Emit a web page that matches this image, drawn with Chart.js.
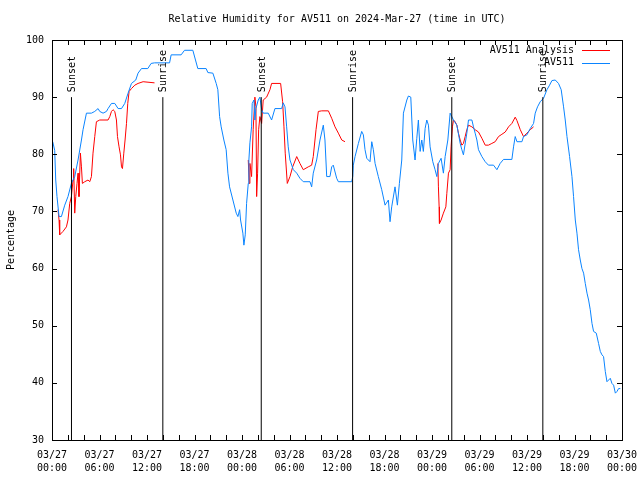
<!DOCTYPE html>
<html>
<head>
<meta charset="utf-8">
<script src="https://cdn.jsdelivr.net/npm/chart.js@4.4.1/dist/chart.umd.min.js"></script>
<style>
  body { margin: 0; background: #fff; }
  canvas { display: block; }
</style>
</head>
<body>
<canvas id="chart-rh" width="640" height="480"></canvas>
<script>
// hours since 03/27 00:00 UTC, relative humidity in %
const blueHours = [0.09, 0.34, 0.47, 0.63, 0.89, 1.19, 1.61, 2.02, 2.45, 2.87, 3.29, 3.72, 3.92, 4.35, 4.98, 5.40, 5.82, 6.03, 6.45, 6.88,
  7.08, 7.51, 7.93, 8.35, 8.78, 9.19, 9.61, 10.04, 10.58, 10.87, 11.30, 12.10, 12.52, 12.95, 14.85, 15.05, 16.31, 16.74, 17.79, 18.42,
  19.47, 19.69, 20.32, 20.74, 20.95, 21.17, 21.37, 21.71, 22.00, 22.22, 22.43, 22.85, 23.27, 23.48, 23.70, 23.82, 24.11, 24.24, 24.41, 24.58,
  24.79, 24.87, 25.00, 25.21, 25.29, 25.51, 25.63, 25.76, 26.05, 26.26, 26.48, 26.68, 27.31, 27.74, 28.16, 29.01, 29.21, 29.43, 29.64, 29.84,
  30.06, 30.48, 30.91, 31.32, 31.74, 32.59, 32.80, 33.00, 33.43, 33.85, 34.27, 34.48, 34.70, 35.11, 35.33, 35.53, 35.96, 36.17, 37.86, 37.99,
  38.06, 38.28, 38.70, 39.12, 39.33, 39.54, 39.76, 40.17, 40.39, 40.59, 40.81, 41.22, 41.65, 42.07, 42.49, 42.70, 42.91, 43.33, 43.63, 43.88,
  44.18, 44.39, 44.82, 45.02, 45.32, 45.57, 45.86, 46.08, 46.28, 46.50, 46.71, 46.91, 47.13, 47.34, 47.55, 47.76, 48.10, 48.39, 48.61, 48.81,
  49.15, 49.44, 49.66, 50.00, 50.29, 50.50, 50.71, 51.14, 51.56, 51.77, 51.97, 52.40, 52.61, 53.04, 53.24, 53.45, 53.67, 53.87, 54.30, 54.72,
  55.13, 55.77, 56.20, 56.61, 57.03, 58.09, 58.30, 58.51, 58.73, 59.36, 59.56, 59.99, 60.41, 60.83, 61.04, 61.33, 61.67, 62.09, 62.52, 62.85,
  63.15, 63.57, 63.98, 64.32, 64.62, 64.83, 65.05, 65.38, 65.68, 65.88, 66.10, 66.31, 66.51, 66.73, 66.94, 67.15, 67.36, 67.58, 67.78, 67.99,
  68.21, 68.41, 68.75, 69.04, 69.26, 69.47, 69.67, 69.89, 70.10, 70.31, 70.52, 70.73, 70.94, 71.16, 71.37, 71.57, 71.79];
const blueValues = [82.2, 80.7, 75.5, 72.6, 69.1, 69.1, 71.1, 72.6, 74.9, 76.1, 79.0, 82.5, 84.3, 87.2, 87.2, 87.5, 88.0, 87.5, 87.2, 87.5,
  88.0, 88.9, 88.9, 88.0, 88.0, 88.9, 90.7, 92.4, 93.0, 94.2, 95.0, 95.0, 95.9, 96.0, 96.0, 97.4, 97.4, 98.2, 98.2, 95.0,
  95.0, 94.3, 94.2, 92.4, 91.3, 86.6, 84.8, 82.5, 80.8, 76.7, 74.3, 72.0, 69.7, 69.1, 70.3, 68.5, 66.2, 64.1, 65.9, 71.4,
  74.9, 79.0, 82.0, 84.8, 88.9, 89.5, 86.0, 88.0, 89.5, 90.0, 87.8, 87.2, 87.2, 86.0, 88.0, 88.0, 89.0, 88.3, 84.8, 81.3,
  79.0, 77.3, 76.7, 75.8, 75.2, 75.2, 74.3, 76.7, 79.0, 82.5, 85.1, 82.5, 76.1, 76.1, 77.8, 78.1, 75.8, 75.2, 75.2, 76.1,
  78.1, 79.6, 81.9, 84.0, 83.4, 80.8, 79.3, 78.7, 82.2, 80.8, 78.4, 76.1, 73.8, 71.1, 72.0, 68.2, 70.8, 74.3, 71.1, 74.9,
  79.0, 87.2, 89.5, 90.2, 90.0, 82.5, 79.0, 82.8, 86.0, 80.5, 82.5, 80.5, 84.5, 86.0, 85.1, 81.3, 78.7, 77.3, 76.1, 78.4,
  79.3, 76.7, 79.6, 82.5, 87.2, 86.6, 86.0, 85.1, 81.9, 80.8, 79.9, 83.7, 86.0, 86.0, 84.8, 83.7, 82.5, 80.8, 79.6, 78.7,
  78.1, 78.1, 77.3, 78.4, 79.1, 79.1, 81.3, 83.1, 82.2, 82.2, 83.1, 83.4, 84.5, 85.4, 87.2, 88.3, 89.2, 89.8, 91.3, 92.1,
  92.9, 93.0, 92.4, 91.3, 88.3, 86.0, 83.1, 79.6, 76.1, 72.6, 68.5, 66.2, 63.3, 61.5, 60.0, 59.2, 57.4, 55.7, 54.5, 52.8,
  50.4, 49.0, 48.7, 46.9, 45.5, 44.9, 44.6, 42.0, 40.2, 40.5, 40.8, 39.9, 39.6, 38.2, 38.5, 39.0, 39.0];

// analysis series, null = no data
const redHours = [0.76, 0.89, 0.97, 1.39, 1.82, 2.02, 2.24, 2.45, 2.66, 2.74, 2.87, 3.00, 3.16, 3.29, 3.41, 3.59, 3.72, 3.84, 4.14, 4.55,
  4.77, 4.98, 5.18, 5.40, 5.61, 6.03, 7.08, 7.30, 7.51, 7.71, 7.93, 8.14, 8.27, 8.47, 8.65, 8.78, 8.90, 9.07, 9.23, 9.41,
  9.57, 9.74, 10.04, 10.46, 10.87, 11.51, 12.95, 20.0,
  24.79, 24.91, 25.00, 25.21, 25.41, 25.63, 25.76, 25.85, 25.97, 26.10, 26.26, 26.48, 26.68, 27.11, 27.53, 27.74, 28.88, 29.13, 29.30, 29.46,
  29.72, 30.06, 30.40, 30.91, 31.32, 31.74, 32.37, 32.80, 33.00, 33.35, 33.64, 34.07, 34.91, 35.33, 35.75, 36.17, 36.60, 37.01, 43.0,
  48.74, 48.81, 48.90, 48.94, 49.15, 49.44, 49.75, 49.87, 50.08, 50.29, 50.41, 50.58, 50.71, 50.92, 51.14, 51.34, 51.56, 51.77, 51.97, 52.19,
  52.40, 52.61, 53.04, 53.45, 53.87, 54.30, 54.72, 55.13, 55.56, 55.98, 56.40, 56.83, 57.25, 57.67, 58.09, 58.51, 58.73, 59.15, 59.56, 59.99,
  60.41, 60.83];
const redValues = [70.3, 68.5, 65.9, 66.5, 67.3, 68.5, 71.4, 72.6, 75.5, 77.5, 69.7, 72.6, 74.9, 76.7, 72.6, 80.2, 77.8, 74.9, 75.2, 75.5,
  75.2, 76.1, 80.2, 83.1, 85.7, 86.0, 86.0, 86.6, 87.5, 87.8, 87.5, 86.0, 83.1, 81.3, 79.9, 77.8, 77.5, 80.2, 82.5, 85.4,
  88.9, 91.0, 91.5, 92.1, 92.4, 92.7, 92.5, null,
  79.0, 74.9, 78.4, 76.1, 84.3, 90.0, 88.3, 72.6, 76.7, 84.3, 86.6, 85.4, 89.5, 90.0, 91.3, 92.4, 92.4, 89.2, 84.8, 80.2,
  74.9, 76.1, 77.8, 79.6, 78.4, 77.3, 77.8, 78.1, 79.6, 84.3, 87.5, 87.6, 87.6, 86.3, 84.8, 83.7, 82.5, 82.2, null,
  78.4, 74.3, 70.8, 67.9, 68.5, 69.7, 70.8, 73.1, 76.7, 77.3, 81.3, 84.8, 86.0, 85.7, 85.1, 83.7, 82.5, 81.6, 81.9, 83.1,
  84.3, 85.1, 84.8, 84.3, 83.9, 82.8, 81.6, 81.6, 81.9, 82.2, 83.1, 83.5, 83.9, 84.8, 85.4, 86.5, 85.9, 84.3, 83.1, 83.7,
  84.3, 84.8];

const sunHours = [2.46, 14.0, 26.43, 37.97, 50.5, 62.0];
const sunLabels = ['Sunset', 'Sunrise', 'Sunset', 'Sunrise', 'Sunset', 'Sunrise'];
const sunLineTop = 90;

const xTickLabels = [
  ['03/27', '00:00'], ['03/27', '06:00'], ['03/27', '12:00'], ['03/27', '18:00'],
  ['03/28', '00:00'], ['03/28', '06:00'], ['03/28', '12:00'], ['03/28', '18:00'],
  ['03/29', '00:00'], ['03/29', '06:00'], ['03/29', '12:00'], ['03/29', '18:00'],
  ['03/30', '00:00']
];
const yTicks = [30, 40, 50, 60, 70, 80, 90, 100];

const FONT = "'DejaVu Sans Mono', 'Liberation Mono', monospace";
Chart.defaults.font.family = FONT;
Chart.defaults.font.size = 10;
Chart.defaults.color = '#000';

const toPoints = (xs, ys) => xs.map((x, i) => ({ x: x, y: ys[i] }));

// vertical sun lines, separated by nulls
const sunPoints = [];
sunHours.forEach(h => {
  sunPoints.push({ x: h, y: 30 }, { x: h, y: sunLineTop }, { x: h, y: null });
});

// frame, inward ticks, title, legend and sun labels (gnuplot look)
const gnuplotDecor = {
  id: 'gnuplotDecor',
  afterDraw(chart) {
    const ctx = chart.ctx;
    const a = chart.chartArea;
    const xs = chart.scales.x;
    const ys = chart.scales.y;
    ctx.save();
    ctx.strokeStyle = '#000';
    ctx.lineWidth = 1;
    ctx.strokeRect(Math.round(a.left) + 0.5, Math.round(a.top) + 0.5, Math.round(a.right - a.left), Math.round(a.bottom - a.top));

    ctx.beginPath();
    yTicks.forEach(v => {
      const y = Math.round(ys.getPixelForValue(v)) + 0.5;
      ctx.moveTo(a.left, y); ctx.lineTo(a.left + 5, y);
      ctx.moveTo(a.right, y); ctx.lineTo(a.right - 5, y);
    });
    for (let h = 0; h <= 72; h += 2) {
      const x = Math.round(xs.getPixelForValue(h)) + 0.5;
      ctx.moveTo(x, a.bottom); ctx.lineTo(x, a.bottom - 5);
      ctx.moveTo(x, a.top); ctx.lineTo(x, a.top + 5);
    }
    ctx.stroke();

    ctx.fillStyle = '#000';
    ctx.font = '10px ' + FONT;
    ctx.textAlign = 'center';
    ctx.textBaseline = 'middle';
    ctx.fillText('Relative Humidity for AV511 on 2024-Mar-27 (time in UTC)', (a.left + a.right) / 2, 19);

    ctx.save();
    ctx.translate(11, (a.top + a.bottom) / 2);
    ctx.rotate(-Math.PI / 2);
    ctx.fillText('Percentage', 0, 0);
    ctx.restore();

    sunHours.forEach((h, i) => {
      const x = xs.getPixelForValue(h);
      const y = ys.getPixelForValue(sunLineTop);
      ctx.save();
      ctx.translate(x + 1, y - 5);
      ctx.rotate(-Math.PI / 2);
      ctx.textAlign = 'left';
      ctx.fillText(sunLabels[i], 0, 0);
      ctx.restore();
    });

    // legend, text right aligned with sample line on the right
    const items = [chart.data.datasets[1], chart.data.datasets[0]];
    items.forEach((ds, i) => {
      const y = 50 + i * 12.5;
      ctx.textAlign = 'right';
      ctx.fillText(ds.label, 574, y);
      ctx.strokeStyle = ds.borderColor;
      ctx.beginPath();
      ctx.moveTo(582, Math.round(y) + 0.5);
      ctx.lineTo(610, Math.round(y) + 0.5);
      ctx.stroke();
    });
    ctx.restore();
  }
};

new Chart(document.getElementById('chart-rh').getContext('2d'), {
  type: 'line',
  data: {
    datasets: [
      {
        label: 'AV511',
        data: toPoints(blueHours, blueValues),
        borderColor: '#0a84ff',
        borderWidth: 1,
        pointRadius: 0,
        tension: 0,
        order: 1
      },
      {
        label: 'AV511 Analysis',
        data: toPoints(redHours, redValues),
        borderColor: '#ff0000',
        borderWidth: 1,
        pointRadius: 0,
        tension: 0,
        spanGaps: false,
        order: 2
      },
      {
        label: 'sun',
        data: sunPoints,
        borderColor: '#000',
        borderWidth: 1,
        pointRadius: 0,
        spanGaps: false,
        order: 0
      }
    ]
  },
  options: {
    responsive: false,
    animation: false,
    devicePixelRatio: 1,
    layout: { padding: { top: 40, right: 18, left: 0, bottom: 0 } },
    plugins: { legend: { display: false }, tooltip: { enabled: false }, title: { display: false } },
    scales: {
      x: {
        type: 'linear',
        min: 0,
        max: 72,
        grid: { display: false, drawTicks: false },
        border: { display: false },
        ticks: {
          stepSize: 6,
          autoSkip: false,
          maxRotation: 0,
          padding: 9,
          font: { size: 10, lineHeight: 1.3 },
          callback: (value, index) => xTickLabels[index]
        },
        afterFit: (scale) => {
          scale.height = 40;
          scale.paddingLeft = 0;
          scale.paddingRight = 0;
        }
      },
      y: {
        min: 30,
        max: 100,
        grid: { display: false, drawTicks: false },
        border: { display: false },
        ticks: { stepSize: 10, padding: 8, font: { size: 10 } },
        afterFit: (scale) => {
          scale.width = 52;
          scale.paddingTop = 0;
          scale.paddingBottom = 0;
        }
      }
    }
  },
  plugins: [gnuplotDecor]
});
</script>
</body>
</html>
